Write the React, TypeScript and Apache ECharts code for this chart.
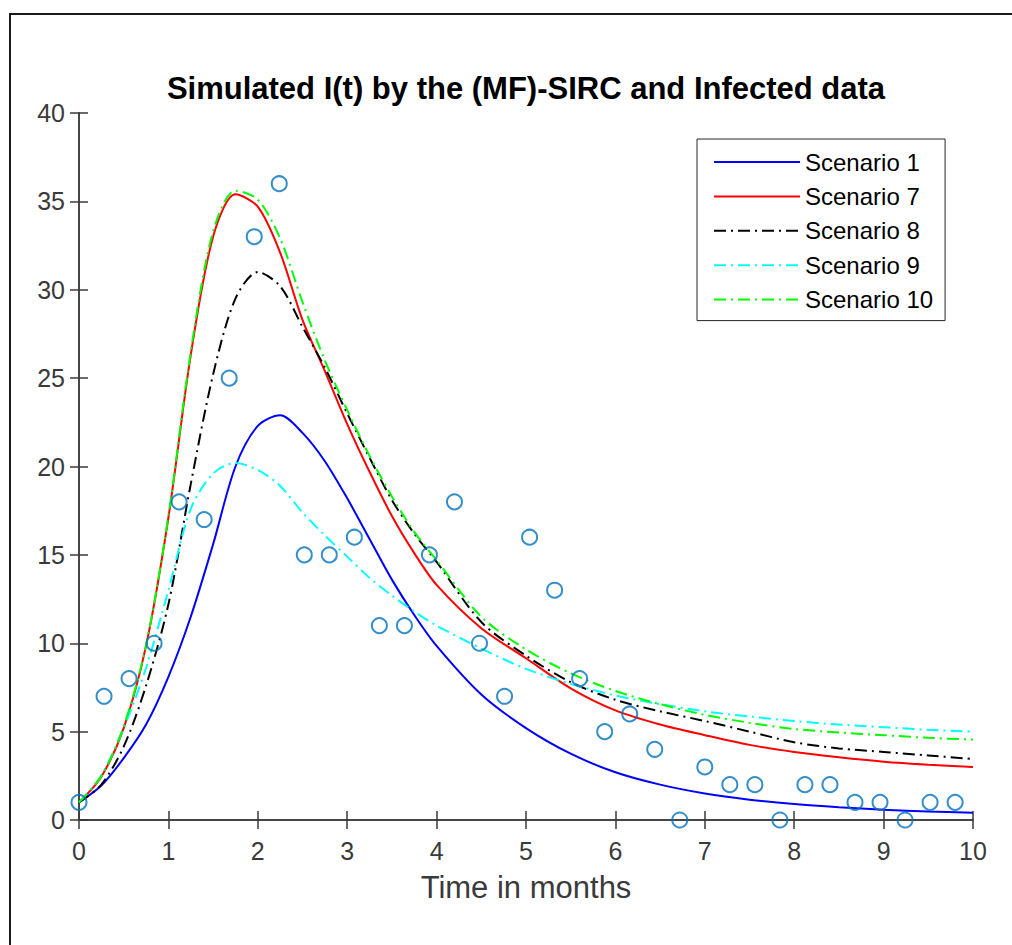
import React, { useEffect, useRef } from "react";
import * as echarts from "echarts";

const tGrid = [0, 0.25, 0.5, 0.75, 1, 1.25, 1.5, 1.75, 2, 2.25, 2.5, 2.75, 3, 3.25, 3.5, 3.75, 4, 4.5, 5, 5.5, 6, 6.5, 7, 7.5, 8, 8.5, 9, 9.5, 10];
const scenario1 = [1.0, 1.95, 3.5, 5.4, 8.1, 11.5, 15.6, 20.0, 22.3, 22.9, 21.9, 20.3, 18.2, 15.9, 13.6, 11.6, 9.85, 7.1, 5.2, 3.75, 2.7, 2.0, 1.5, 1.15, 0.9, 0.72, 0.58, 0.48, 0.41];
const scenario7 = [1.0, 2.45, 5.2, 9.85, 17.1, 26.3, 33.0, 35.4, 34.7, 32.1, 28.3, 25.4, 22.4, 19.7, 17.2, 15.1, 13.3, 10.85, 9.15, 7.45, 6.2, 5.4, 4.8, 4.25, 3.85, 3.55, 3.3, 3.13, 3.0];
const scenario8 = [1.0, 2.0, 4.15, 7.6, 12.2, 19.0, 25.2, 29.5, 31.0, 30.2, 27.9, 25.6, 23.0, 20.5, 18.1, 16.2, 14.6, 11.2, 9.3, 7.8, 6.8, 6.15, 5.6, 5.0, 4.4, 4.05, 3.85, 3.65, 3.45];
const scenario9 = [1.0, 2.5, 5.2, 8.6, 13.0, 17.6, 19.6, 20.2, 19.8, 18.9, 17.4, 16.1, 14.9, 13.7, 12.7, 11.8, 11.0, 9.7, 8.55, 7.7, 7.05, 6.55, 6.15, 5.85, 5.6, 5.4, 5.25, 5.1, 5.0];
const scenario10 = [1.0, 2.5, 5.3, 9.9, 17.2, 26.5, 33.3, 35.6, 35.1, 32.9, 29.3, 26.0, 23.2, 20.6, 18.3, 16.3, 14.7, 11.5, 9.65, 8.3, 7.3, 6.55, 5.95, 5.5, 5.15, 4.95, 4.8, 4.65, 4.55];

const dataT = [0, 0.28, 0.56, 0.84, 1.12, 1.4, 1.68, 1.96, 2.24, 2.52, 2.8, 3.08, 3.36, 3.64, 3.92, 4.2, 4.48, 4.76, 5.04, 5.32, 5.6, 5.88, 6.16, 6.44, 6.72, 7.0, 7.28, 7.56, 7.84, 8.12, 8.4, 8.68, 8.96, 9.24, 9.52, 9.8];
const dataI = [1, 7, 8, 10, 18, 17, 25, 33, 36, 15, 15, 16, 11, 11, 15, 18, 10, 7, 16, 13, 8, 5, 6, 4, 0, 3, 2, 2, 0, 2, 2, 1, 1, 0, 1, 1];

const seriesNames = ["Scenario 1", "Scenario 7", "Scenario 8", "Scenario 9", "Scenario 10"];
const seriesValues = [scenario1, scenario7, scenario8, scenario9, scenario10];
const seriesColors = ["#0000ff", "#ff0000", "#000000", "#00ffff", "#00ff00"];
const seriesDash: any[] = ["solid", "solid", [12, 5, 2, 5], [12, 5, 2, 5], [12, 5, 2, 5]];

const FONT = "'Liberation Sans', Arial, Helvetica, sans-serif";

export default function App() {
  const ref = useRef<HTMLDivElement>(null);
  useEffect(() => {
    document.body.style.margin = "0";
    document.body.style.overflow = "hidden";
    const chart = echarts.init(ref.current!, null, { renderer: "svg" });
    const axisLine = { show: true, lineStyle: { color: "#3a3a3a", width: 1.5 } };
    const axisTick = { show: true, inside: true, length: 9, lineStyle: { color: "#3a3a3a", width: 1.5 } };
    const lineSeries = seriesNames.map((name, i) => ({
      name,
      type: "line",
      xAxisIndex: 0,
      yAxisIndex: 0,
      data: tGrid.map((t, j) => [t, seriesValues[i][j]]),
      smooth: 0.3,
      symbol: "none",
      lineStyle: { color: seriesColors[i], width: 2, type: seriesDash[i] },
      itemStyle: { color: seriesColors[i] },
      z: 3,
    }));
    chart.setOption({
      animation: false,
      backgroundColor: "#ffffff",
      textStyle: { fontFamily: FONT },
      grid: { left: 79, top: 113, right: 39, bottom: 125, containLabel: false },
      graphic: [
        {
          type: "rect",
          shape: { x: 10, y: 14, width: 2000, height: 2000 },
          style: { fill: "none", stroke: "#1a1a1a", lineWidth: 2 },
          z: 0,
        },
        {
          type: "text",
          x: 526,
          y: 88,
          style: {
            text: "Simulated I(t) by the (MF)-SIRC and Infected data",
            fontFamily: FONT,
            fontSize: 31,
            fontWeight: "bold",
            fill: "#000000",
            textAlign: "center",
            textVerticalAlign: "middle",
          },
          z: 10,
        },
      ],
      legend: {
        orient: "vertical",
        left: 697,
        top: 139,
        itemWidth: 86,
        itemHeight: 12,
        itemGap: 10.4,
        padding: [11, 12, 9, 16],
        borderColor: "#262626",
        borderWidth: 1,
        backgroundColor: "#ffffff",
        itemStyle: { opacity: 0 },
        textStyle: { fontSize: 24, color: "#000000", fontFamily: FONT, lineHeight: 24 },
        data: seriesNames,
        selectedMode: false,
      },
      xAxis: [
        {
          type: "value",
          position: "bottom",
          min: 0,
          max: 10,
          interval: 1,
          name: "Time in months",
          nameLocation: "middle",
          nameGap: 52,
          nameTextStyle: { fontSize: 31, color: "#3a3a3a", fontFamily: FONT },
          axisLine,
          axisTick,
          splitLine: { show: false },
          axisLabel: { fontSize: 25, color: "#3a3a3a", margin: 18, fontFamily: FONT },
        },
        {
          type: "value",
          position: "top",
          min: 0,
          max: 10,
          interval: 1,
          axisLine,
          axisTick,
          splitLine: { show: false },
          axisLabel: { show: false },
        },
      ],
      yAxis: [
        {
          type: "value",
          position: "left",
          min: 0,
          max: 40,
          interval: 5,
          axisLine,
          axisTick,
          splitLine: { show: false },
          axisLabel: { fontSize: 25, color: "#3a3a3a", margin: 14, fontFamily: FONT },
        },
        {
          type: "value",
          position: "right",
          min: 0,
          max: 40,
          interval: 5,
          axisLine,
          axisTick,
          splitLine: { show: false },
          axisLabel: { show: false },
        },
      ],
      series: [
        ...lineSeries,
        {
          name: "Infected data",
          type: "scatter",
          xAxisIndex: 0,
          yAxisIndex: 0,
          data: dataT.map((t, i) => [t, dataI[i]]),
          symbol: "circle",
          symbolSize: 15,
          clip: false,
          itemStyle: { color: "rgba(0,0,0,0)", borderColor: "#0072BD", borderWidth: 2 },
          z: 4,
        },
      ],
    });
    return () => chart.dispose();
  }, []);
  return <div ref={ref} style={{ width: 1012, height: 945 }} />;
}
